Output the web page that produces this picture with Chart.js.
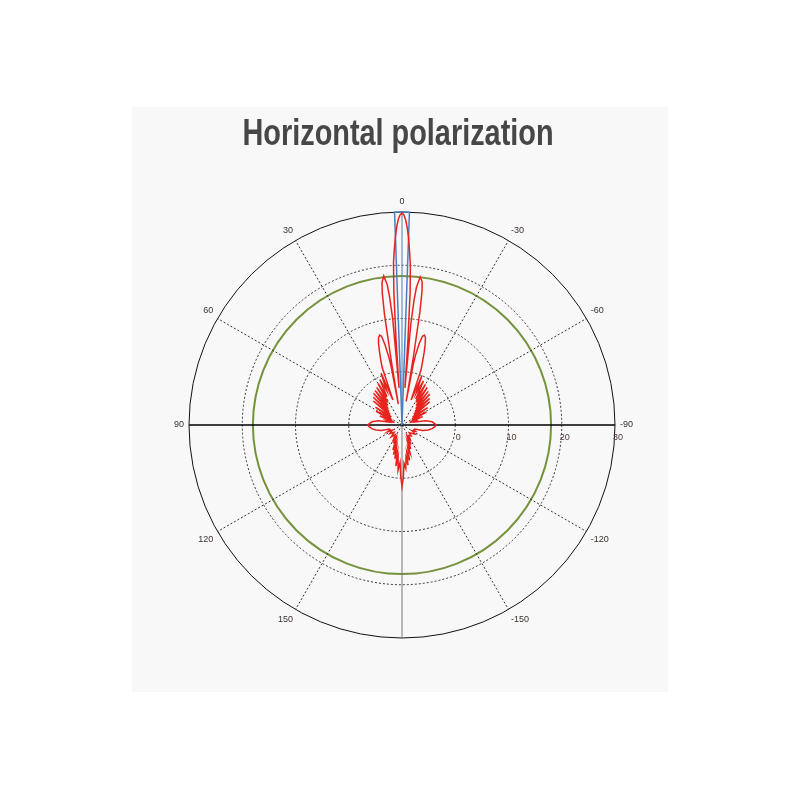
<!DOCTYPE html>
<html>
<head>
<meta charset="utf-8">
<script src="https://cdn.jsdelivr.net/npm/chart.js@4.4.0/dist/chart.umd.min.js"></script>
<style>
  body { margin: 0; background: #fff; }
  #panel { position: absolute; left: 132px; top: 107px; width: 536px; height: 585px; background: #f8f8f8; }
  #wrap { position: absolute; left: 0; top: 0; width: 800px; height: 800px; }
  #title {
    position: absolute; left: 0; top: 114px; width: 796px; text-align: center;
    font: bold 37px/37px "Liberation Sans", Arial, sans-serif; color: #474747;
    transform: scaleX(0.78); transform-origin: 398px 0; z-index: 2;
  }
</style>
</head>
<body>
<div id="panel"></div>
<div id="title">Horizontal polarization</div>
<div id="wrap"><canvas id="polarChart"></canvas></div>
<script>
// angles in degrees, positive = counter-clockwise (left), gain in dB
const redAngles = [
  180, 178.5, 177, 175, 173, 171.5, 170, 168, 166, 164, 162, 160, 157, 155, 153, 150, 145, 138, 133, 125, 120, 118, 115, 112, 108,
  105, 101, 97, 93, 90, 88, 84, 80, 77, 74, 71, 68, 65, 62, 59, 56, 53, 50, 48, 46, 44, 42, 40, 38, 36, 34, 32, 30,
  28, 26, 24, 22, 20, 19, 18, 17, 16, 15, 14, 13, 12, 11, 10.5, 10, 9.5, 9, 8.5, 8, 7, 6, 5.5, 5, 4.5, 4, 3.5, 3,
  2.5, 2, 1.5, 1, 0.5, 0,
  -0.5, -1, -1.5, -2, -2.5, -3, -3.5, -4, -4.5, -5, -5.5, -6, -7, -8, -8.5, -9, -9.5, -10, -10.5, -11, -12, -13,
  -14, -15, -16, -17, -18, -19, -20, -22, -24, -26, -28, -30, -32, -34, -36, -38, -40, -42, -44, -46, -48, -50,
  -53, -56, -59, -62, -65, -68, -71, -74, -77, -80, -84, -88, -90, -93, -97, -101, -105, -108, -112, -115, -120,
  -125, -130, -137, -140, -146, -150, -153, -155, -157, -160, -162, -164, -166, -168, -170, -171.5, -173, -175, -177, -178.5
];
const redGain = [
  1.6, -0.5, -3, -1.5, -4, -2.2, -5, -3.5, -5.8, -4.2, -6.5, -5, -7, -6.2, -7.5, -6.8, -7.8, -7, -8, -7.2, -7.8, -8, -7, -7.6, -7.5,
  -6, -5, -4.3, -3.8, -3.6, -3.8, -4.3, -5.5, -7.5, -7, -8.5, -5.5, -8, -4.5, -7.5, -4, -7.5, -3, -7, -2.5, -6.5, -2, -6, -1.8, -5.5, -1.5, -5, -1,
  -4, -0.5, -3, 0.5, -5, 1.5, 3, 4.5, 6, 7, 7.4, 7.1, 5.5, 3, 1, -6, 2, 11, 15, 17, 18.2, 16.5, 14, 10, -3, 6, 15, 20.5,
  23, 25.4, 27.3, 28.7, 29.5, 29.8,
  29.5, 28.6, 27.1, 25.2, 22.6, 20, 15, 6, -3, 9, 13.5, 16, 18, 17.2, 15.5, 11.5, 3, -5.5, 1.5, 3.5, 5.8, 7.1,
  7.4, 7, 5.8, 4.2, 2.5, 1, -5, 0, -3.5, -0.8, -4.5, -1.2, -5, -1.5, -5.5, -2, -6, -2.2, -6.5, -2.8, -7, -3.2,
  -7.5, -4.2, -7.8, -4.8, -8, -5.8, -8.5, -7.2, -7.5, -5.5, -4.3, -3.8, -3.6, -3.8, -4.3, -5, -6, -7.5, -7.6, -7.2, -7.8,
  -7, -7.5, -8, -7.3, -7.6, -7, -7.6, -6, -7.2, -5.2, -6.6, -4.5, -5.5, -3.2, -4.8, -2.4, -3.8, -1.8, -2.8, -0.2
];
const blueAngles = [2.5, 2, 1, 0, -1, -2, -2.5];
const blueGain = [-10, 30, 30, 30, 30, 30, -10];

const refLevel = 18;               // green reference circle
const radialTicks = [0, 10, 20, 30];
const angleTicks = [0, -30, -60, -90, -120, -150, 180, 150, 120, 90, 60, 30];
const rMin = -10, rMax = 30;
const step = 0.5;                  // angular resolution of the category axis

// category axis: clockwise degrees from the top
const labels = [];
for (let i = 0; i < 360 / step; i++) labels.push(i * step);

function toIndex(a) {
  return Math.round((((-a) % 360) + 360) % 360 / step);
}
function buildSeries(angles, gains) {
  const out = labels.map(() => null);
  angles.forEach((a, i) => { out[toIndex(a)] = gains[i]; });
  return out;
}
function angleText(cw) {
  if (cw % 30 !== 0) return '';
  const a = cw <= 180 ? -cw : 360 - cw;
  return angleTicks.includes(a) ? String(a) : '';
}

const radialTickLabels = {
  id: 'radialTickLabels',
  afterDraw(chart) {
    const r = chart.scales.r;
    const ctx = chart.ctx;
    ctx.save();
    ctx.font = '9px "Liberation Sans", Arial, sans-serif';
    ctx.fillStyle = '#4a3b35';
    ctx.textAlign = 'center';
    ctx.textBaseline = 'middle';
    radialTicks.forEach(v => {
      ctx.fillText(String(v), r.xCenter + r.getDistanceFromCenterForValue(v) + 3, r.yCenter + 13);
    });
    ctx.restore();
  }
};

new Chart('polarChart', {
  type: 'radar',
  data: {
    labels: labels,
    datasets: [{
      label: 'H-pol',
      data: buildSeries(redAngles, redGain),
      borderColor: '#e8231e',
      borderWidth: 1.5,
      backgroundColor: 'transparent',
      fill: false
    }, {
      label: 'Beam',
      data: buildSeries(blueAngles, blueGain),
      borderColor: '#4a7fc1',
      borderWidth: 1.5,
      backgroundColor: 'transparent',
      fill: false
    }]
  },
  options: {
    responsive: true,
    maintainAspectRatio: false,
    animation: false,
    spanGaps: true,
    elements: { point: { radius: 0 }, line: { tension: 0 } },
    layout: { padding: { left: 173, right: 165, top: 194, bottom: 144 } },
    plugins: {
      legend: { display: false },
      tooltip: { enabled: false },
      title: { display: false }
    },
    scales: {
      r: {
        min: rMin,
        max: rMax,
        afterBuildTicks: (axis) => {
          axis.ticks = [rMin, ...radialTicks, refLevel].sort((a, b) => a - b).map(v => ({ value: v }));
        },
        ticks: { display: false },
        grid: {
          circular: true,
          color: (c) => c.tick.value === rMin ? 'transparent'
            : c.tick.value === refLevel ? '#76923c'
            : c.tick.value === rMax ? '#111' : '#333',
          lineWidth: (c) => c.tick.value === refLevel ? 2 : 1
        },
        border: {
          dash: (c) => (c.tick && (c.tick.value === refLevel || c.tick.value === rMax)) ? [] : [2, 2]
        },
        angleLines: {
          // index 0 = top (0), 90/step = right (-90), 180/step = bottom (180), 270/step = left (90)
          color: (c) => c.index === 0 ? '#4a7fc1'
            : (c.index === 90 / step || c.index === 270 / step) ? '#000'
            : c.index === 180 / step ? '#777' : '#333',
          lineWidth: (c) => (labels[c.index] % 30 === 0) ? ((labels[c.index] % 180 === 90) ? 1.3 : 1) : 0,
          borderDash: (c) => (labels[c.index] % 90 === 0) ? [] : [2, 2]
        },
        pointLabels: {
          padding: 5,
          color: '#3b302b',
          font: { family: "'Liberation Sans', Arial, sans-serif", size: 9 },
          callback: (v) => angleText(v)
        }
      }
    }
  },
  plugins: [radialTickLabels]
});
</script>
</body>
</html>
